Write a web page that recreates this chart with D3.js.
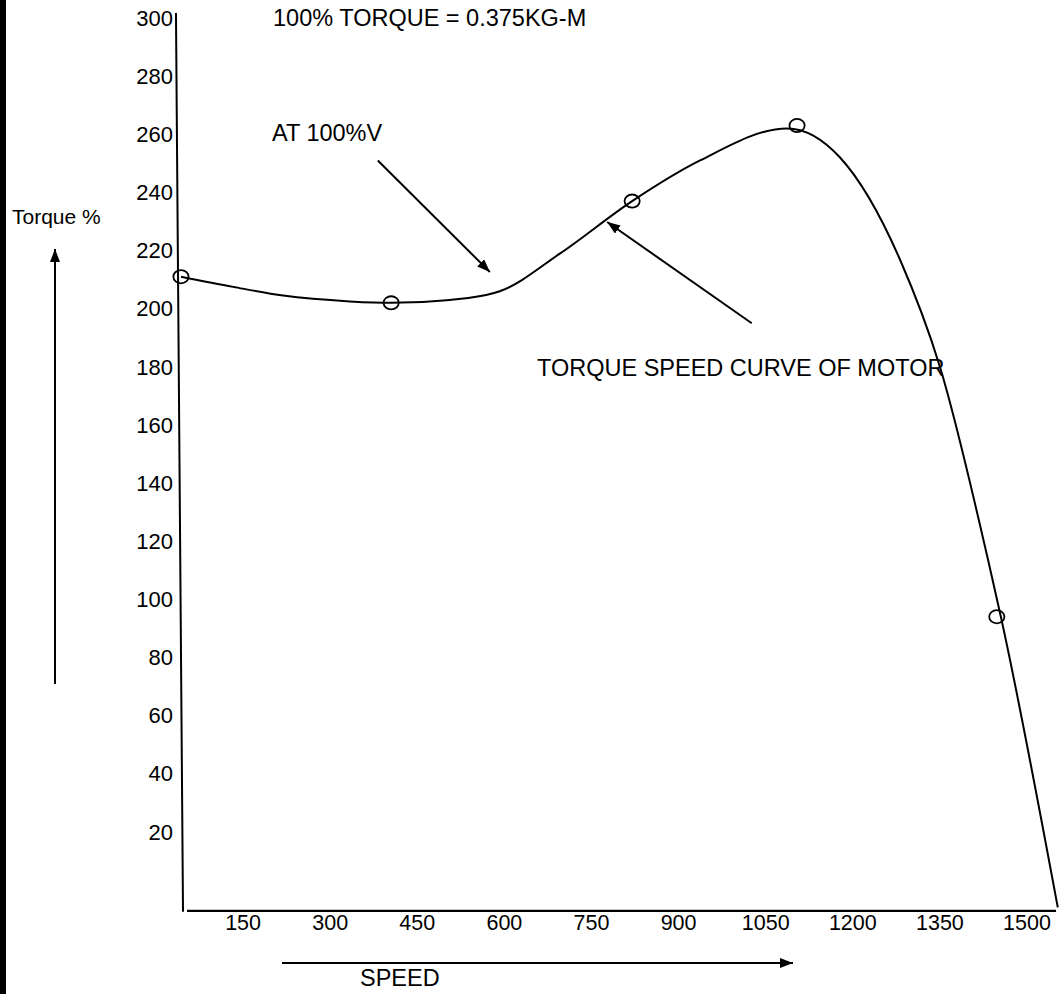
<!DOCTYPE html>
<html>
<head>
<meta charset="utf-8">
<script src="https://cdn.jsdelivr.net/npm/d3@7"></script>
<style>
  html, body { margin: 0; padding: 0; background: #fff; }
  svg { display: block; }
  text { font-family: "Liberation Sans", Arial, sans-serif; fill: #000; }
</style>
</head>
<body>
<svg id="chart" width="1060" height="994"></svg>
<script>
// ---- data ----
const speedTicks = [150, 300, 450, 600, 750, 900, 1050, 1200, 1350, 1500];
const torqueTicks = [20, 40, 60, 80, 100, 120, 140, 160, 180, 200, 220, 240, 260, 280, 300];

const markerSpeed  = [43, 405, 820, 1104, 1448];
const markerTorque = [211, 202, 237, 263, 94];

const curveSpeed  = [43, 133, 219, 334, 405, 506, 592, 696, 820, 937, 1087, 1178, 1281, 1350, 1433, 1455, 1553];
const curveTorque = [211, 207.5, 204.5, 202.5, 202, 203, 206, 219, 237, 251, 262, 252, 217, 180, 113.5, 94, -6];

const titleText = "100% TORQUE = 0.375KG-M";
const noteVoltage = "AT 100%V";
const noteCurve = "TORQUE SPEED CURVE OF MOTOR";
const yTitle = "Torque %";
const xTitle = "SPEED";

// ---- scales ----
const svg = d3.select("#chart");
const x = d3.scaleLinear().domain([0, 1500]).range([156, 1027]);
const y = d3.scaleLinear().domain([0, 300]).range([890, 18]);
const floorT = -7.2; // torque level of the drawn speed axis

// arrow marker
svg.append("defs").append("marker")
  .attr("id", "ah").attr("viewBox", "0 0 13 10")
  .attr("refX", 13).attr("refY", 5)
  .attr("markerWidth", 13).attr("markerHeight", 10)
  .attr("markerUnits", "userSpaceOnUse")
  .attr("orient", "auto")
  .append("path").attr("d", "M0,0 L13,5 L0,10 Z").attr("fill", "#000");

// left border bar
svg.append("rect").attr("x", 0).attr("y", 0).attr("width", 6).attr("height", 994).attr("fill", "#000");

// axes lines (hand-drawn look: y-axis slightly slanted)
svg.append("line")
  .attr("x1", x(34.4)).attr("y1", y(301.7))
  .attr("x2", x(46.5)).attr("y2", y(floorT - 0.3))
  .attr("stroke", "#000").attr("stroke-width", 2);
svg.append("line")
  .attr("x1", x(53.4)).attr("y1", y(floorT))
  .attr("x2", x(1550)).attr("y2", y(floorT))
  .attr("stroke", "#000").attr("stroke-width", 2.2);

// y tick labels
svg.append("g").selectAll("text").data(torqueTicks).join("text")
  .attr("x", 173).attr("y", d => y(d))
  .attr("dy", "0.35em").attr("text-anchor", "end")
  .attr("font-size", 22).text(d => d);

// x tick labels
svg.append("g").selectAll("text").data(speedTicks).join("text")
  .attr("x", d => x(d)).attr("y", y(floorT) + 12)
  .attr("dy", "0.35em").attr("text-anchor", "middle")
  .attr("font-size", 21.5).text(d => d);

// curve
const pts = curveSpeed.map((s, i) => [s, curveTorque[i]]);
svg.append("path")
  .attr("d", d3.line().x(d => x(d[0])).y(d => y(d[1])).curve(d3.curveMonotoneX)(pts))
  .attr("fill", "none").attr("stroke", "#000").attr("stroke-width", 2);

// markers (slightly oval, as in the hand drawing)
svg.append("g").selectAll("ellipse").data(markerSpeed.map((s, i) => [s, markerTorque[i]])).join("ellipse")
  .attr("cx", d => x(d[0])).attr("cy", d => y(d[1])).attr("rx", 7.6).attr("ry", 6.6)
  .attr("fill", "none").attr("stroke", "#000").attr("stroke-width", 1.8);

// annotations
svg.append("text").attr("x", 273).attr("y", 18).attr("dy", "0.35em")
  .attr("font-size", 23.5).text(titleText);
svg.append("text").attr("x", 272).attr("y", 133).attr("dy", "0.35em")
  .attr("font-size", 23.5).text(noteVoltage);
svg.append("line")
  .attr("x1", x(382)).attr("y1", y(251))
  .attr("x2", x(575)).attr("y2", y(212.6))
  .attr("stroke", "#000").attr("stroke-width", 2).attr("marker-end", "url(#ah)");
svg.append("text").attr("x", 537).attr("y", 368).attr("dy", "0.35em")
  .attr("font-size", 23.5).text(noteCurve);
svg.append("line")
  .attr("x1", x(1026)).attr("y1", y(195))
  .attr("x2", x(777)).attr("y2", y(229.8))
  .attr("stroke", "#000").attr("stroke-width", 2).attr("marker-end", "url(#ah)");

// axis titles with arrows
svg.append("text").attr("x", 12).attr("y", 217).attr("dy", "0.35em")
  .attr("font-size", 21).text(yTitle);
svg.append("line").attr("x1", 55).attr("y1", 684).attr("x2", 55).attr("y2", 249)
  .attr("stroke", "#000").attr("stroke-width", 2).attr("marker-end", "url(#ah)");
svg.append("line").attr("x1", 282).attr("y1", 963).attr("x2", 793).attr("y2", 963)
  .attr("stroke", "#000").attr("stroke-width", 2).attr("marker-end", "url(#ah)");
svg.append("text").attr("x", 360).attr("y", 978).attr("dy", "0.35em")
  .attr("font-size", 23.5).text(xTitle);
</script>
</body>
</html>
